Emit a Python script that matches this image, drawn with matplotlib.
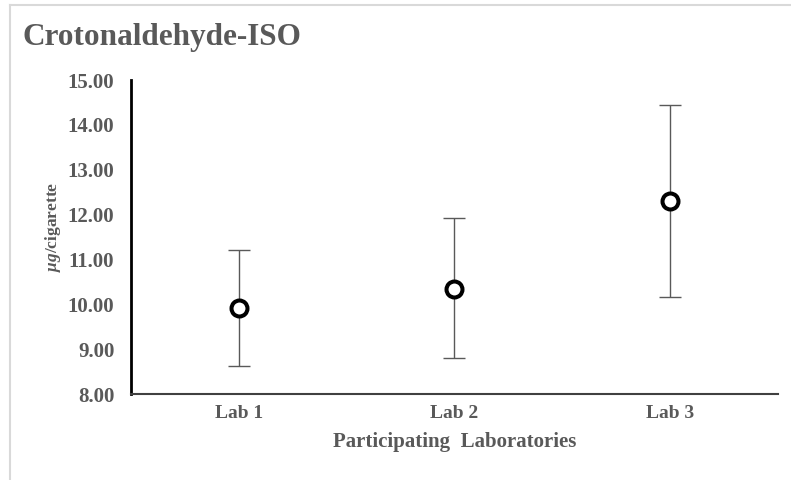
import matplotlib
matplotlib.use("Agg")
import matplotlib.pyplot as plt
from matplotlib.lines import Line2D
import numpy as np

labs = ["Lab 1", "Lab 2", "Lab 3"]
means = [9.92, 10.33, 12.30]
lower = [8.62, 8.80, 10.16]
upper = [11.22, 11.93, 14.44]
yticks = [8, 9, 10, 11, 12, 13, 14, 15]

TXT = "#595959"
FONT = "Liberation Serif"
plt.rcParams["mathtext.fontset"] = "custom"
plt.rcParams["mathtext.it"] = "Liberation Serif:italic:bold"
plt.rcParams["mathtext.rm"] = "Liberation Serif:bold"

fig = plt.figure(figsize=(7.91, 4.80), dpi=100)
fig.patch.set_facecolor("white")

# light chart border (top and left)
fig.add_artist(Line2D([10/791, 10/791], [0, 1 - 5/480], transform=fig.transFigure,
                      color="#d9d9d9", lw=1.5))
fig.add_artist(Line2D([10/791, 1], [1 - 5/480, 1 - 5/480], transform=fig.transFigure,
                      color="#d9d9d9", lw=1.5))

ax = fig.add_axes([131/791, 1 - 394/480, (778 - 131)/791, (394 - 80)/480])
x = np.arange(len(labs))
m = np.array(means)
yerr = np.vstack([m - np.array(lower), np.array(upper) - m])
ax.errorbar(x, m, yerr=yerr, fmt="none", ecolor="#595959", elinewidth=1.0,
            capsize=8, capthick=1.0, zorder=2)
ax.plot(x, m, linestyle="none", marker="o", markersize=11.5, markeredgewidth=2.9,
        markeredgecolor="black", markerfacecolor="white", zorder=3)

ax.set_xlim(-0.5, 2.5)
ax.set_ylim(8, 15)
ax.set_yticks(yticks)
ax.set_yticklabels([f"{v:.2f}" for v in yticks])
ax.set_xticks(x)
ax.set_xticklabels(labs)

for s in ["top", "right"]:
    ax.spines[s].set_visible(False)
ax.spines["left"].set_color("black")
ax.spines["left"].set_linewidth(2.0)
ax.spines["bottom"].set_color("#404040")
ax.spines["bottom"].set_linewidth(1.5)

ax.tick_params(axis="y", length=0, pad=12, labelcolor=TXT)
ax.tick_params(axis="x", length=0, pad=8, labelcolor=TXT)
for lab in ax.get_yticklabels():
    lab.set_fontfamily(FONT)
    lab.set_fontweight("bold")
    lab.set_fontsize(15)
for lab in ax.get_xticklabels():
    lab.set_fontfamily(FONT)
    lab.set_fontweight("bold")
    lab.set_fontsize(14)

ax.set_xlabel("Participating  Laboratories", fontfamily=FONT, fontweight="bold",
              fontsize=15, color=TXT, labelpad=7)
ax.set_ylabel(r"$\mathit{\mu g}$/cigarette", fontfamily=FONT, fontweight="bold",
              fontsize=12.5, color=TXT, labelpad=10)
ax.yaxis.set_label_coords(-0.105, 0.532)

fig.text(22/791, 1 - 45/480, "Crotonaldehyde-ISO", fontfamily=FONT,
         fontweight="bold", fontsize=22.5, color=TXT, va="baseline", ha="left")

fig.savefig("out.png", dpi=100, facecolor="white")
